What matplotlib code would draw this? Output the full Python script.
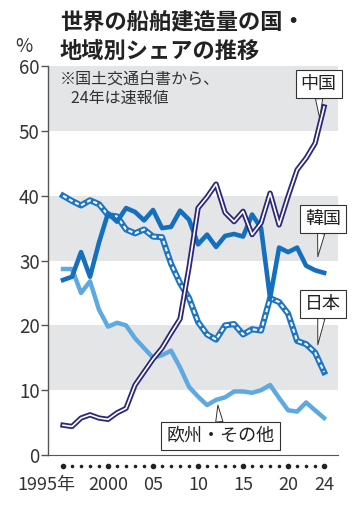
import numpy as np
import matplotlib.pyplot as plt

plt.rcParams['font.family'] = ['Noto Sans CJK JP', 'DejaVu Sans']

years = list(range(1995, 2025))
japan = [40.0, 39.2, 38.5, 39.3, 38.7, 37.0, 36.8, 34.8, 34.2, 34.8,
         33.7, 33.6, 29.5, 26.5, 24.2, 20.5, 18.6, 17.8, 20.0, 20.2,
         18.6, 19.4, 19.2, 24.2, 23.6, 21.8, 17.6, 17.1, 15.8, 12.8]
korea = [27.0, 27.5, 31.3, 27.5, 32.8, 37.3, 36.0, 38.1, 37.5, 36.2,
         37.8, 35.0, 35.2, 37.7, 36.3, 32.5, 34.0, 32.1, 33.8, 34.1,
         33.7, 37.1, 35.0, 24.2, 32.0, 31.3, 32.0, 29.2, 28.5, 28.1]
china = [4.6, 4.4, 5.7, 6.2, 5.7, 5.5, 6.5, 7.2, 10.8, 12.8,
         14.8, 16.5, 18.8, 21.0, 29.0, 38.1, 39.8, 41.8, 37.4, 36.0,
         37.6, 34.0, 35.8, 40.4, 35.5, 39.9, 44.0, 45.8, 48.1, 53.7]
euro = [28.7, 28.7, 25.0, 26.8, 22.4, 19.8, 20.4, 20.0, 18.0, 16.5,
        15.0, 15.4, 16.1, 13.5, 10.5, 9.0, 7.7, 8.5, 8.9, 9.8,
        9.8, 9.6, 10.0, 10.8, 8.8, 6.9, 6.7, 8.1, 6.9, 5.7]

major_years = [1995, 2000, 2005, 2010, 2015, 2020, 2024]
major_labels = ['1995年', '2000', '05', '10', '15', '20', '24']
y_ticks = [0, 10, 20, 30, 40, 50, 60]

txt = '#333333'
c_korea = '#1470bf'
c_japan = '#1c74c4'
c_china = '#2a2878'
c_euro = '#5eaae0'

fig = plt.figure(figsize=(3.6, 5.07), dpi=100)
ax = fig.add_axes([0.1333, 0.1026, 0.806, 0.767])

for lo in (10, 30, 50):
    ax.axhspan(lo, lo + 10, color='#e4e5e7', lw=0, zorder=0)

ax.plot(years, euro, color=c_euro, lw=3.2, zorder=3)
ax.plot(years, japan, color=c_japan, lw=4.4, zorder=4)
ax.plot(years, japan, color='white', lw=1.5, dashes=(2.0, 1.3), zorder=4)
ax.plot(years, korea, color=c_korea, lw=3.3, zorder=5)
ax.plot(years, china, color=c_china, lw=3.8, zorder=6)
ax.plot(years, china, color='white', lw=1.2, zorder=6)

ax.set_xlim(1993.33, 2025.56)
ax.set_ylim(0, 60)
for s in ('top', 'right'):
    ax.spines[s].set_visible(False)
ax.spines['left'].set_color('#555555')
ax.spines['left'].set_linewidth(1.0)
ax.spines['bottom'].set_color('#555555')
ax.spines['bottom'].set_linewidth(0.8)

ax.set_yticks(y_ticks)
ax.tick_params(axis='y', length=5, width=1.0, color='#555555',
               labelsize=13.5, labelcolor=txt, pad=1)
ax.set_xticks([])

# dot row and year labels under the axis
trans = ax.get_xaxis_transform()
small = [y for y in years if y not in major_years]
ax.scatter(small, [-0.028] * len(small), s=2.5, color='#222222',
           transform=trans, clip_on=False)
ax.scatter(major_years, [-0.028] * len(major_years), s=9, color='#222222',
           transform=trans, clip_on=False)
for yr, lab in zip(major_years, major_labels):
    if yr == 1995:
        ax.text(yr + 1.4, -0.078, lab, transform=trans, fontsize=13,
                color=txt, ha='right', va='center')
    else:
        ax.text(yr, -0.078, lab, transform=trans, fontsize=13,
                color=txt, ha='center', va='center')

fig.text(60 / 360, 1 - 11 / 507, '世界の船舶建造量の国・\n地域別シェアの推移',
         fontsize=16, fontweight='bold', color='#222222', va='top', ha='left',
         linespacing=1.32)
fig.text(24 / 360, 1 - 46 / 507, '%', fontsize=13.5, color=txt,
         ha='center', va='center')

ax.text(1994.67, 59.2, '※国土交通白書から、\n   24年は速報値', fontsize=11.5,
        color=txt, va='top', ha='left', linespacing=1.1)

box = dict(boxstyle='square,pad=0.28', fc='white', ec='#333333', lw=0.8)
arrow = dict(arrowstyle='wedge,tail_width=0.4,shrink_factor=0.5',
             fc='white', ec='#333333', lw=0.7, shrinkA=0, shrinkB=0)
labels = [('中国', (2023.5, 52.0), (2023.4, 57.2)),
          ('韓国', (2023.3, 30.6), (2023.9, 36.4)),
          ('日本', (2023.3, 17.0), (2023.9, 23.3)),
          ('欧州・その他', (2012.2, 7.7), (2012.5, 2.9))]
for name, xy, xyt in labels:
    ax.annotate(name, xy=xy, xytext=xyt, fontsize=13, color='#222222',
                ha='center', va='center', bbox=box, arrowprops=arrow,
                zorder=8)

fig.savefig('out.png', dpi=100)
